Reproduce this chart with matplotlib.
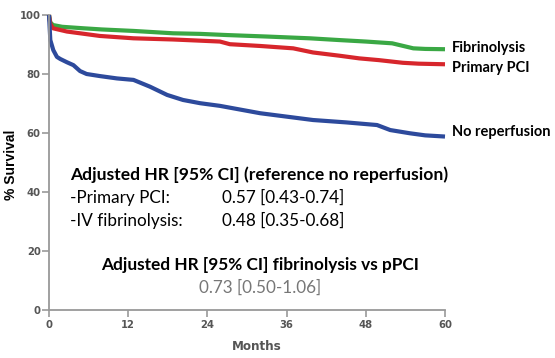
import matplotlib
matplotlib.use("Agg")
import matplotlib.pyplot as plt

# --- data ---
fib_t = [0, 0.2, 0.6, 2.0, 5.2, 8.0, 12.8, 18.8, 22.9, 27.0, 33.0, 39.5, 44.0, 48.0, 52.0, 53.5, 55.2, 57.0, 60.0]
fib_s = [100, 97.5, 96.6, 96.0, 95.5, 95.1, 94.6, 93.8, 93.6, 93.2, 92.7, 92.1, 91.5, 91.0, 90.4, 89.6, 88.7, 88.5, 88.4]

pci_t = [0, 0.2, 0.6, 2.7, 7.7, 12.8, 18.8, 22.9, 25.9, 27.4, 32.0, 37.0, 40.0, 44.0, 47.0, 50.0, 53.6, 56.0, 60.0]
pci_s = [100, 97.0, 95.5, 94.4, 92.9, 92.1, 91.7, 91.3, 91.0, 90.1, 89.5, 88.7, 87.3, 86.2, 85.3, 84.7, 83.8, 83.5, 83.3]

nor_t = [0, 0.2, 0.65, 1.2, 1.7, 2.7, 3.7, 4.7, 5.7, 7.7, 10.3, 12.8, 15.3, 17.9, 20.3, 22.9, 25.9, 32.0, 40.0, 45.0, 49.7, 51.7, 54.7, 57.0, 60.0]
nor_s = [100, 91.5, 88.1, 85.8, 85.1, 84.0, 83.0, 81.0, 80.0, 79.3, 78.5, 78.0, 75.7, 72.9, 71.2, 70.1, 69.2, 66.7, 64.4, 63.6, 62.7, 61.0, 59.9, 59.2, 58.8]

series_labels = ["Fibrinolysis", "Primary PCI", "No reperfusion"]
label_y = [88.8, 82.0, 60.2]

x_ticks = [0, 12, 24, 36, 48, 60]
y_ticks = [0, 20, 40, 60, 80, 100]

hr_title = "Adjusted HR [95% CI] (reference no reperfusion)"
hr_rows = ["-Primary PCI:", "-IV fibrinolysis:"]
hr_vals = ["0.57 [0.43-0.74]", "0.48 [0.35-0.68]"]
hr2_title = "Adjusted HR [95% CI] fibrinolysis vs pPCI"
hr2_val = "0.73 [0.50-1.06]"

colors = ["#3aa844", "#d7262c", "#2d4a9c"]

W, H = 555, 358
fig = plt.figure(figsize=(W / 100, H / 100), dpi=100)
ax = fig.add_axes([49 / W, 1 - 310 / H, (445 - 49) / W, (310 - 15) / H])

for t, s, c in zip([fib_t, pci_t, nor_t], [fib_s, pci_s, nor_s], colors):
    ax.plot(t, s, color=c, lw=3.0, solid_joinstyle="round", solid_capstyle="butt", clip_on=False)

ax.set_xlim(0, 60)
ax.set_ylim(0, 100)
ax.set_xticks(x_ticks)
ax.set_yticks(y_ticks)
for sp in ["top", "right"]:
    ax.spines[sp].set_visible(False)
for sp in ["left", "bottom"]:
    ax.spines[sp].set_color("#999999")
    ax.spines[sp].set_linewidth(1.3)

ax.tick_params(axis="both", colors="#999999", length=5, width=1.2, labelcolor="#555555")
for lab in ax.get_xticklabels() + ax.get_yticklabels():
    lab.set_fontfamily(["DejaVu Sans"])
    lab.set_fontstretch("condensed")
    lab.set_fontweight("bold")
    lab.set_fontsize(8)
ax.tick_params(axis="y", pad=1)
ax.tick_params(axis="x", pad=2)

fig.text(11 / W, 1 - 165 / H, "% Survival", rotation=90, fontsize=10, fontweight="bold",
         family=["Liberation Sans", "DejaVu Sans"], va="center", ha="center")
fig.text(257 / W, 1 - 347 / H, "Months", fontsize=9.5, fontweight="bold", color="#555555",
         family=["DejaVu Sans"], fontstretch="condensed", va="center", ha="center")

txt_font = ["Lato", "DejaVu Sans"]
for lab, y in zip(series_labels, label_y):
    ax.text(61.0, y, lab, fontsize=10.5, fontweight="bold", family=txt_font, va="center", ha="left", clip_on=False)

ax.text(3.2, 46.0, hr_title, fontsize=12.6, fontweight="bold", family=txt_font, va="center", ha="left")
for i, (r, v) in enumerate(zip(hr_rows, hr_vals)):
    y = 38.0 - i * 7.8
    ax.text(3.2, y, r, fontsize=12.3, family=txt_font, va="center", ha="left")
    ax.text(26.2, y, v, fontsize=12.3, family=txt_font, va="center", ha="left")
ax.text(32.0, 15.3, hr2_title, fontsize=12.4, fontweight="bold", family=txt_font, va="center", ha="center")
ax.text(32.0, 7.5, hr2_val, fontsize=12.3, family=txt_font, va="center", ha="center", color="#777777")

fig.savefig("out.png", dpi=100)
